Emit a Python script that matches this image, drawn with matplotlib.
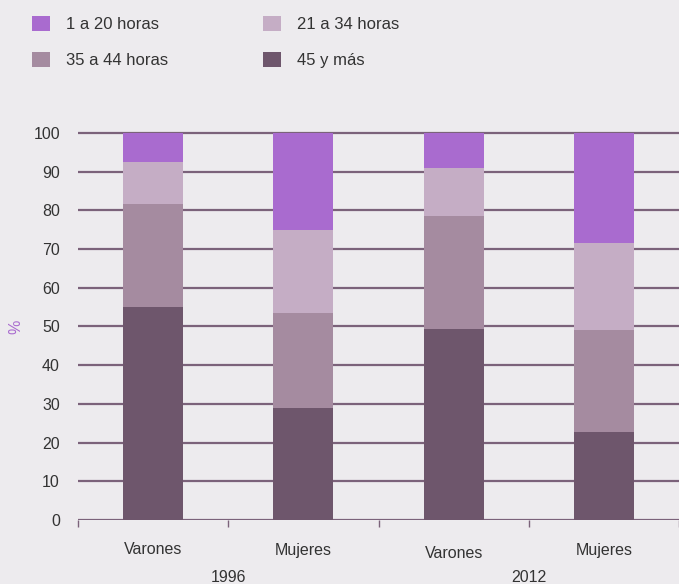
import matplotlib.pyplot as plt
from matplotlib.patches import Patch

# values (% of workers by weekly hours)
groups = ['Varones', 'Mujeres', 'Varones', 'Mujeres']
years = ['1996', '2012']
series_names = ['45 y más', '35 a 44 horas', '21 a 34 horas', '1 a 20 horas']
h45_mas = [55.0, 28.9, 49.4, 22.7]
h35_44 = [26.7, 24.6, 29.2, 26.4]
h21_34 = [10.8, 21.4, 12.4, 22.5]
h01_20 = [7.5, 25.1, 9.0, 28.4]
yticks = [0, 10, 20, 30, 40, 50, 60, 70, 80, 90, 100]

colors = {'45 y más': '#6e566c', '35 a 44 horas': '#a58ba0',
          '21 a 34 horas': '#c5adc5', '1 a 20 horas': '#a96bcf'}
bg = '#edebee'
text_c = '#333333'
PX = 72 / 100  # points per pixel at dpi 100

plt.rcParams['font.family'] = ['Liberation Sans', 'DejaVu Sans']

fig = plt.figure(figsize=(6.79, 5.84), dpi=100)
fig.patch.set_facecolor(bg)
ax = fig.add_axes([78 / 679, 64 / 584, 601 / 679, 391 / 584])
ax.set_facecolor(bg)

x = list(range(len(groups)))
bottom = [0.0] * len(groups)
for name, vals in zip(series_names, [h45_mas, h35_44, h21_34, h01_20]):
    ax.bar(x, vals, width=0.4, bottom=bottom, color=colors[name], zorder=3)
    bottom = [b + v for b, v in zip(bottom, vals)]

# gridlines
for t in yticks:
    ax.axhline(t, color='#7b627a', lw=1.6, zorder=1)

ax.set_xlim(-0.5, 3.5)
ax.set_ylim(0, 101)
for s in ax.spines.values():
    s.set_visible(False)

ax.set_yticks(yticks)
ax.tick_params(axis='y', length=0, pad=13, labelsize=11.5, labelcolor=text_c)
ax.set_xticks([-0.5, 0.5, 1.5, 2.5, 3.5])
ax.set_xticklabels([])
ax.tick_params(axis='x', length=5, width=1, color='#7b627a', direction='out')

# category labels
for i, g in enumerate(groups):
    dy = -30 if i != 2 else -33
    ax.annotate(g, (i, 0), xytext=(0, dy * PX), textcoords='offset points',
                ha='center', va='center', fontsize=11.5, color=text_c,
                annotation_clip=False)
for j, yr in enumerate(years):
    ax.annotate(yr, (2 * j + 0.5, 0), xytext=(0, -57 * PX), textcoords='offset points',
                ha='center', va='center', fontsize=11.5, color=text_c,
                annotation_clip=False)

fig.text(16 / 679, 1 - 327 / 584, '%', rotation=90, color='#a96bcf',
         fontsize=11.5, ha='center', va='center')

# legend (ncol fills column-first)
leg_order = ['1 a 20 horas', '35 a 44 horas', '21 a 34 horas', '45 y más']
handles = [Patch(facecolor=colors[n], edgecolor='none') for n in leg_order]
leg = fig.legend(handles, leg_order, loc='upper left', ncol=2,
                 bbox_to_anchor=(32 / 679, 1 - 16 / 584), frameon=False,
                 borderpad=0, borderaxespad=0,
                 fontsize=12, handlelength=1.05, handleheight=1.05,
                 handletextpad=1.0, columnspacing=5.7, labelspacing=1.15)
for t in leg.get_texts():
    t.set_color(text_c)

fig.savefig('out.png', dpi=100, facecolor=bg)
